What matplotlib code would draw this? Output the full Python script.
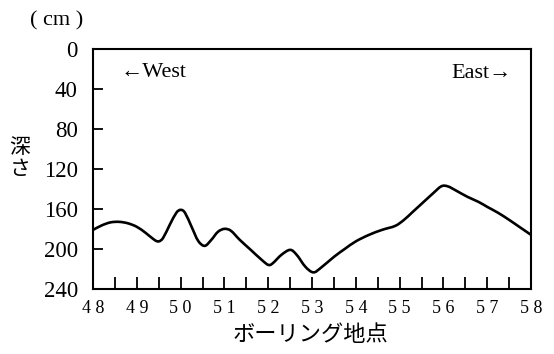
import numpy as np
import matplotlib
matplotlib.use('Agg')
import matplotlib.pyplot as plt
from matplotlib.path import Path
from matplotlib.patches import PathPatch

# ボーリング地点ごとの深さ (cm)
point = [48.0, 48.2, 48.4, 48.6, 48.8, 49.0, 49.2, 49.4, 49.5, 49.6, 49.75, 49.9,
         50.0, 50.1, 50.25, 50.4, 50.55, 50.7, 50.85, 51.0, 51.15, 51.35, 51.6,
         51.85, 52.0, 52.1, 52.3, 52.5, 52.65, 52.85, 53.03, 53.2, 53.5, 53.75,
         54.0, 54.3, 54.6, 54.9, 55.1, 55.3, 55.5, 55.75, 55.95, 56.1, 56.3,
         56.55, 56.8, 57.0, 57.25, 57.5, 57.75, 58.0]
depth = [181, 176.5, 173.5, 173, 174.5, 178, 184, 191, 192.5, 189, 176, 164,
         161, 164, 178, 192, 197, 191, 183, 180, 182, 191, 201,
         211, 216, 214.5, 206, 201, 206, 218, 223.5, 219, 208, 200,
         192.5, 186, 181, 177, 171, 163, 155, 145, 137.5, 137.5, 142,
         148, 153, 158, 164, 171, 178.5, 186]

x_ticks = np.arange(48, 58.01, 0.5)
x_labels = [' '.join(str(int(v))) if v == int(v) else '' for v in x_ticks]
y_ticks = [0, 40, 80, 120, 160, 200, 240]

serif = ['Liberation Serif', 'DejaVu Serif']
jp = ['Noto Sans CJK JP', 'DejaVu Sans']


def smooth_path(xs, ys):
    # Catmull-Rom -> cubic bezier so the line runs smoothly through each point
    pts = np.column_stack([xs, ys]).astype(float)
    verts = [pts[0]]
    codes = [Path.MOVETO]
    for i in range(len(pts) - 1):
        p0 = pts[max(i - 1, 0)]
        p1 = pts[i]
        p2 = pts[i + 1]
        p3 = pts[min(i + 2, len(pts) - 1)]
        verts += [p1 + (p2 - p0) / 6, p2 - (p3 - p1) / 6, p2]
        codes += [Path.CURVE4] * 3
    return Path(verts, codes)


fig = plt.figure(figsize=(5.54, 3.54), dpi=100)
ax = fig.add_axes([0.168, 0.184, 0.7905, 0.678])

ax.add_patch(PathPatch(smooth_path(point, depth), facecolor='none', edgecolor='black',
                       lw=1.9, capstyle='round', joinstyle='round'))

ax.set_xlim(48, 58)
ax.set_ylim(240, 0)
ax.set_xticks(x_ticks)
ax.set_xticklabels(x_labels, family=serif, fontsize=13)
ax.set_yticks(y_ticks)
ax.set_yticklabels([str(v) for v in y_ticks], family=serif, fontsize=16.5)
ax.tick_params(axis='x', direction='in', length=9, width=1.3, pad=8)
ax.tick_params(axis='y', direction='in', length=7, width=1.3, pad=11)
for s in ax.spines.values():
    s.set_linewidth(1.5)

ax.text(48.62, 24, '←West', family=serif, fontsize=16, ha='left', va='center')
ax.text(57.55, 25, 'East→', family=serif, fontsize=16, ha='right', va='center')

fig.text(0.103, 0.94, '( cm )', family=serif, fontsize=16, ha='center', va='center')
fig.text(0.036, 0.555, '深\nさ', family=jp, fontsize=15, ha='center', va='center', linespacing=1.0)
fig.text(0.56, 0.054, 'ボーリング地点', family=jp, fontsize=16, ha='center', va='center')

fig.savefig('out.png', dpi=100)
